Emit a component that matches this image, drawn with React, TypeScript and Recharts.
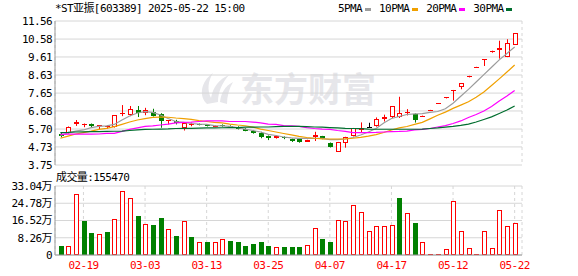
import React from 'react'
import { ComposedChart, Bar, Line, XAxis, YAxis, CartesianGrid } from 'recharts'

const dates = [
  '02-14', '02-17', '02-18', '02-19', '02-20', '02-21', '02-24', '02-25', '02-26', '02-27',
  '02-28', '03-03', '03-04', '03-05', '03-06', '03-07', '03-10', '03-11', '03-12', '03-13',
  '03-14', '03-17', '03-18', '03-19', '03-20', '03-21', '03-24', '03-25', '03-26', '03-27',
  '03-28', '03-31', '04-01', '04-02', '04-03', '04-07', '04-08', '04-09', '04-10', '04-11',
  '04-14', '04-15', '04-16', '04-17', '04-18', '04-21', '04-22', '04-23', '04-24', '04-25',
  '04-28', '05-12', '05-13', '05-14', '05-15', '05-16', '05-19', '05-20', '05-21', '05-22',
]

const opens = [
  5.45, 5.49, 5.99, 5.99, 5.96, 5.88, 5.86, 5.83, 6.50, 6.46,
  6.72, 6.56, 6.61, 6.50, 6.17, 6.15, 5.78, 5.94, 5.99, 5.93,
  5.85, 5.93, 5.88, 5.82, 5.72, 5.62, 5.47, 5.33, 5.20, 5.28,
  5.16, 5.15, 5.02, 5.25, 5.30, 4.95, 4.46, 4.93, 5.32, 5.63,
  5.80, 5.88, 6.23, 6.34, 6.33, 6.58, 6.50, 6.40, 6.73, 7.08,
  7.40, 7.80, 7.96, 8.56, 9.07, 9.46, 9.93, 9.99, 9.62, 10.26,
]
const closes = [
  5.30, 5.81, 6.10, 6.00, 5.84, 5.90, 5.87, 6.46, 6.55, 6.79,
  6.58, 6.73, 6.43, 6.16, 6.18, 6.02, 6.03, 5.96, 5.97, 5.86,
  5.88, 5.89, 5.84, 5.72, 5.62, 5.47, 5.28, 5.20, 5.32, 5.22,
  5.05, 5.02, 5.10, 5.35, 5.20, 4.70, 4.99, 5.27, 5.74, 5.78,
  5.80, 6.22, 6.33, 6.95, 6.55, 6.60, 6.19, 6.42, 6.74, 7.09,
  7.42, 7.82, 8.18, 8.58, 9.08, 9.48, 9.95, 10.08, 10.35, 10.91,
]
const highs = [
  5.50, 5.84, 6.19, 6.00, 6.00, 5.91, 5.91, 6.46, 7.00, 6.95,
  6.95, 6.85, 6.80, 6.56, 6.18, 6.20, 6.05, 6.05, 6.00, 5.95,
  5.89, 5.95, 5.90, 5.85, 5.75, 5.65, 5.55, 5.35, 5.35, 5.30,
  5.18, 5.16, 5.12, 5.55, 5.33, 4.97, 5.00, 5.28, 5.76, 6.06,
  6.04, 6.33, 6.48, 6.95, 7.45, 6.78, 6.55, 6.43, 6.74, 7.09,
  7.43, 7.82, 8.18, 8.59, 9.08, 9.48, 9.95, 10.49, 10.57, 10.91,
]
const lows = [
  5.25, 5.45, 5.87, 5.80, 5.80, 5.70, 5.72, 5.78, 6.40, 6.40,
  6.35, 6.45, 6.38, 5.77, 5.95, 5.95, 5.62, 5.85, 5.90, 5.84,
  5.80, 5.82, 5.80, 5.68, 5.58, 5.45, 5.20, 5.10, 5.18, 5.15,
  5.00, 4.96, 5.00, 5.05, 5.15, 4.70, 4.46, 4.69, 5.30, 5.52,
  5.80, 5.83, 6.11, 6.30, 6.30, 6.44, 6.05, 6.38, 6.73, 7.08,
  7.36, 7.24, 7.86, 8.50, 9.07, 9.12, 9.84, 9.52, 9.60, 10.26,
]

const ma5 = [
  5.35, 5.49, 5.59, 5.65, 5.78, 5.84, 5.87, 5.95, 6.19, 6.41,
  6.57, 6.64, 6.60, 6.46, 6.27, 6.11, 6.06, 6.00, 5.97, 5.95,
  5.89, 5.87, 5.84, 5.78, 5.70, 5.62, 5.54, 5.41, 5.35, 5.27,
  5.22, 5.19, 5.19, 5.19, 5.19, 5.13, 5.13, 5.16, 5.24, 5.38,
  5.54, 5.73, 6.03, 6.27, 6.38, 6.49, 6.52, 6.54, 6.60, 6.65,
  6.80, 7.10, 7.48, 7.85, 8.25, 8.65, 9.05, 9.45, 9.80, 10.15,
]
const ma10 = [
  5.20, 5.32, 5.43, 5.51, 5.59, 5.68, 5.74, 5.83, 5.95, 6.08,
  6.19, 6.27, 6.33, 6.35, 6.34, 6.30, 6.27, 6.22, 6.16, 6.11,
  6.06, 6.03, 5.97, 5.92, 5.88, 5.80, 5.70, 5.62, 5.54, 5.46,
  5.38, 5.30, 5.24, 5.20, 5.17, 5.16, 5.16, 5.17, 5.20, 5.25,
  5.32, 5.40, 5.51, 5.65, 5.76, 5.84, 5.95, 6.06, 6.25, 6.45,
  6.62, 6.82, 7.00, 7.18, 7.42, 7.71, 8.06, 8.42, 8.79, 9.17,
]
const ma20 = [
  5.41, 5.42, 5.42, 5.42, 5.42, 5.43, 5.46, 5.47, 5.57, 5.68,
  5.76, 5.84, 5.87, 5.92, 5.97, 6.03, 6.06, 6.08, 6.11, 6.14,
  6.14, 6.14, 6.11, 6.11, 6.11, 6.08, 6.03, 5.97, 5.95, 5.89,
  5.87, 5.84, 5.78, 5.73, 5.70, 5.68, 5.62, 5.57, 5.51, 5.51,
  5.51, 5.52, 5.54, 5.56, 5.57, 5.59, 5.65, 5.68, 5.73, 5.81,
  5.89, 6.00, 6.14, 6.33, 6.49, 6.68, 6.92, 7.22, 7.49, 7.79,
]
const ma30 = [
  5.51, 5.52, 5.54, 5.55, 5.56, 5.56, 5.57, 5.58, 5.59, 5.62,
  5.65, 5.68, 5.69, 5.70, 5.71, 5.73, 5.74, 5.74, 5.75, 5.76,
  5.76, 5.77, 5.78, 5.78, 5.80, 5.80, 5.81, 5.81, 5.83, 5.84,
  5.84, 5.84, 5.83, 5.81, 5.80, 5.78, 5.76, 5.74, 5.73, 5.72,
  5.70, 5.69, 5.69, 5.69, 5.69, 5.69, 5.69, 5.70, 5.73, 5.76,
  5.80, 5.84, 5.90, 5.97, 6.08, 6.22, 6.36, 6.54, 6.73, 6.95,
]

const volumes = [
  43000, 43000, 291000, 163000, 107000, 99000, 110000, 171000, 306000, 273000,
  187000, 147000, 142000, 177000, 123000, 91000, 161000, 86000, 62000, 62000,
  62000, 75000, 67000, 62000, 43000, 53000, 62000, 43000, 37000, 37000,
  38000, 38000, 48000, 129000, 77000, 62000, 166000, 161000, 238000, 206000,
  113000, 139000, 139000, 142000, 273000, 200000, 153000, 62000, 5000, 5000,
  27000, 257000, 113000, 32000, 5000, 113000, 32000, 215000, 139000, 155470,
]

const priceTicks = [3.75, 4.73, 5.70, 6.68, 7.65, 8.63, 9.61, 10.58, 11.56]
const volTicks = [0, 82600, 165200, 247800, 330400]
const dateTicks = ['02-19', '03-03', '03-13', '03-25', '04-07', '04-17', '05-12', '05-22']

const PRICE_MIN = 3.75
const PRICE_MAX = 11.56
const RED = '#ff0000'
const GREEN = '#008000'
const BORDER = '#999999'
const GRID = '#d6d6d6'
const FONT = "'DejaVu Sans Mono', 'Noto Sans CJK SC', monospace"

const maSeries = [
  { key: 'ma5', label: '5PMA', color: '#9c9c9c' },
  { key: 'ma10', label: '10PMA', color: '#f0a000' },
  { key: 'ma20', label: '20PMA', color: '#ff00ff' },
  { key: 'ma30', label: '30PMA', color: '#006e2e' },
]

const rows = dates.map((date, i) => ({
  date,
  open: opens[i],
  close: closes[i],
  high: highs[i],
  low: lows[i],
  ma5: ma5[i],
  ma10: ma10[i],
  ma20: ma20[i],
  ma30: ma30[i],
  volume: volumes[i],
  volUp: i === 0 ? closes[i] >= opens[i] : closes[i] >= closes[i - 1],
}))

const tickStyle = { fill: '#000', fontSize: 11, fontFamily: FONT, letterSpacing: -0.6 }

// bar is drawn from PRICE_MIN up to the high, so its height gives the px per yuan
function Candle(props: any) {
  const { x, y, width, height, payload } = props
  const top = Math.min(y, y + height)
  const h = Math.abs(height)
  const { open, close, high, low } = payload
  const k = h / (high - PRICE_MIN)
  const py = (v: number) => top + (high - v) * k
  const cx = Math.round(x + width / 2) + 0.5
  const color = close > open ? RED : close < open ? GREEN : '#000'
  const bt = Math.round(py(Math.max(open, close)))
  const bb = Math.round(py(Math.min(open, close)))
  const wick = <line x1={cx} x2={cx} y1={py(high)} y2={py(low)} stroke={color} strokeWidth={1} />

  if (bb - bt <= 1) {
    return (
      <g>
        {wick}
        <line x1={cx - 2.5} x2={cx + 2.5} y1={bt + 0.5} y2={bt + 0.5} stroke={color} strokeWidth={1} />
      </g>
    )
  }
  if (color === RED) {
    return (
      <g>
        {wick}
        <rect x={cx - 2} y={bt + 0.5} width={4} height={bb - bt - 1} fill="#fff" stroke={RED} strokeWidth={1} />
      </g>
    )
  }
  return (
    <g>
      {wick}
      <rect x={cx - 2.5} y={bt} width={5} height={bb - bt} fill={color} />
    </g>
  )
}

function VolBar(props: any) {
  const { x, y, width, height, payload } = props
  const cx = Math.round(x + width / 2) + 0.5
  const bottom = Math.round(y + height)
  const h = Math.max(1, Math.round(Math.abs(height)))
  if (payload.volUp) {
    if (h <= 1) {
      return <line x1={cx - 2.5} x2={cx + 2.5} y1={bottom - 0.5} y2={bottom - 0.5} stroke={RED} />
    }
    return <rect x={cx - 2} y={bottom - h + 0.5} width={4} height={h - 1} fill="#fff" stroke={RED} strokeWidth={1} />
  }
  return <rect x={cx - 2.5} y={bottom - h} width={5} height={h} fill={GREEN} />
}

function Watermark() {
  return (
    <div style={{ position: 'absolute', left: 198, top: 71, display: 'flex', alignItems: 'center', color: '#e6e6ea' }}>
      <svg width={36} height={34} viewBox="0 0 36 34">
        <path d="M9 33 C1 26 2 11 15 2 C10 10 9 19 13 27 C15 16 21 8 31 4 C24 12 20 21 20 31 Z" fill="#e6e6ea" />
        <path d="M22 31 C23 22 27 15 35 11 C31 18 29 25 29 33 Z" fill="#e6e6ea" />
      </svg>
      <span style={{ marginLeft: 6, fontFamily: "'Noto Sans CJK SC'", fontWeight: 700, fontSize: 34, lineHeight: '34px' }}>
        东方财富
      </span>
    </div>
  )
}

function Legend() {
  return (
    <div style={{ position: 'absolute', left: 338, top: 2, display: 'flex', alignItems: 'center', fontFamily: FONT, fontSize: 11, letterSpacing: -0.6, lineHeight: '14px', color: '#000' }}>
      {maSeries.map((s) => (
        <div key={s.key} style={{ display: 'flex', alignItems: 'center', marginRight: 8 }}>
          <span>{s.label}</span>
          <span style={{ display: 'inline-block', width: 6, height: 3, marginLeft: 3, background: s.color }} />
        </div>
      ))}
    </div>
  )
}

export default function App() {
  const last = volumes[volumes.length - 1]
  return (
    <div style={{ position: 'absolute', left: 0, top: 0, width: 578, height: 276, background: '#fff', overflow: 'hidden' }}>
      <Watermark />
      <div style={{ position: 'absolute', left: 55, top: 2, fontFamily: FONT, fontSize: 11, letterSpacing: -0.6, lineHeight: '14px', color: '#000' }}>
        *ST亚振[603389] 2025-05-22 15:00
      </div>
      <Legend />

      <div style={{ position: 'absolute', left: 0, top: 0 }}>
        <ComposedChart width={578} height={178} data={rows} margin={{ top: 21, right: 56, bottom: 13, left: 0 }} barCategoryGap={0}>
          <CartesianGrid vertical={false} stroke={GRID} />
          <CartesianGrid horizontal={false} stroke={GRID} strokeDasharray="3 3" />
          <XAxis
            dataKey="date"
            padding={{ left: 1.5, right: 3.5 }}
            ticks={dateTicks}
            interval={0}
            tick={false}
            tickLine={false}
            height={0}
            axisLine={{ stroke: BORDER }}
          />
          <XAxis xAxisId="top" orientation="top" type="number" domain={[0, 1]} tick={false} tickLine={false} height={0} axisLine={{ stroke: BORDER }} />
          <YAxis
            domain={[PRICE_MIN, PRICE_MAX]}
            ticks={priceTicks}
            interval={0}
            allowDataOverflow
            width={55}
            tickLine={false}
            tickSize={2}
            tickMargin={1}
            tick={tickStyle}
            tickFormatter={(v: number) => v.toFixed(2)}
            axisLine={{ stroke: BORDER }}
          />
          <YAxis yAxisId="right" orientation="right" domain={[0, 1]} width={0} tick={false} tickLine={false} axisLine={{ stroke: BORDER }} />
          <Bar dataKey={(d: any) => [PRICE_MIN, d.high]} shape={Candle} isAnimationActive={false} />
          {maSeries.map((s) => (
            <Line key={s.key} type="linear" dataKey={s.key} stroke={s.color} strokeWidth={1.2} dot={false} activeDot={false} isAnimationActive={false} />
          ))}
        </ComposedChart>
      </div>

      <div style={{ position: 'absolute', left: 56, top: 171, fontFamily: FONT, fontSize: 11, letterSpacing: -0.6, lineHeight: '14px', color: '#000' }}>
        成交量:{last}
      </div>

      <div style={{ position: 'absolute', left: 0, top: 170 }}>
        <ComposedChart width={578} height={106} data={rows} margin={{ top: 16, right: 56, bottom: 0, left: 0 }} barCategoryGap={0}>
          <CartesianGrid vertical={false} stroke={GRID} />
          <CartesianGrid horizontal={false} stroke={GRID} strokeDasharray="3 3" />
          <XAxis
            dataKey="date"
            padding={{ left: 1.5, right: 3.5 }}
            ticks={dateTicks}
            interval={0}
            height={21}
            tickLine={false}
            tickSize={4}
            tickMargin={2}
            tick={{ ...tickStyle, fill: RED }}
            axisLine={{ stroke: BORDER }}
          />
          <XAxis xAxisId="top" orientation="top" type="number" domain={[0, 1]} tick={false} tickLine={false} height={0} axisLine={{ stroke: BORDER }} />
          <YAxis
            domain={[0, 330400]}
            ticks={volTicks}
            interval={0}
            allowDataOverflow
            width={55}
            tickLine={false}
            tickSize={2}
            tickMargin={1}
            tick={tickStyle}
            tickFormatter={(v: number) => (v === 0 ? '0' : `${(v / 10000).toFixed(2)}万`)}
            axisLine={{ stroke: BORDER }}
          />
          <YAxis yAxisId="right" orientation="right" domain={[0, 1]} width={0} tick={false} tickLine={false} axisLine={{ stroke: BORDER }} />
          <Bar dataKey="volume" shape={VolBar} isAnimationActive={false} />
        </ComposedChart>
      </div>
    </div>
  )
}
